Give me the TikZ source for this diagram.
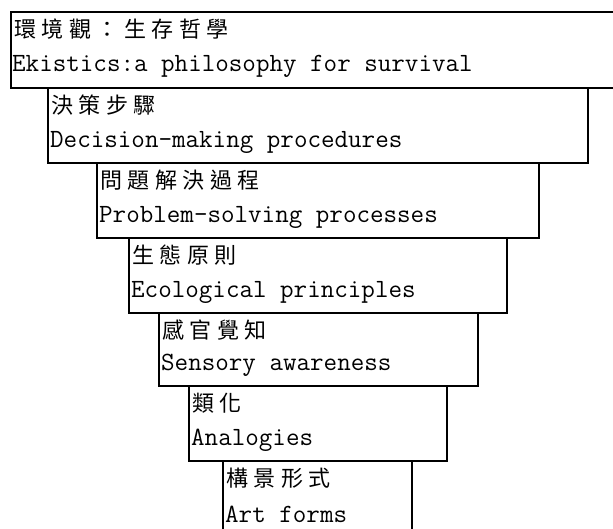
\documentclass[tikz,border=0pt]{standalone}
\usepackage{fontspec}
\newfontfamily\zhfont[LetterSpace=25]{Noto Sans CJK TC}
\usepackage{tikz}
\usetikzlibrary{calc}
\tikzset{lvl/.style={draw,line width=1.5pt,anchor=north west,inner sep=0pt,minimum height=75pt}}
\tikzset{zh/.style={anchor=base west,inner sep=0pt,font=\fontsize{22}{22}\zhfont}}
\tikzset{en/.style={anchor=base west,inner sep=0pt,font=\fontsize{26.3}{26.3}\ttfamily}}

\begin{document}
\begin{tikzpicture}[x=1pt,y=-1pt]
  \useasboundingbox (0,0) rectangle (613,528);
  % levels, widest on top
  \node[lvl,minimum width=620pt,minimum height=76pt] (A) at (10,11) {};
  \node[lvl,minimum width=540pt] (B) at (47,87) {};
  \node[lvl,minimum width=442pt] (C) at (96,162) {};
  \node[lvl,minimum width=378pt] (D) at (128,237) {};
  \node[lvl,minimum width=319pt,minimum height=73pt] (E) at (158,312) {};
  \node[lvl,minimum width=258pt] (F) at (188,385) {};
  \node[lvl,minimum width=189pt,minimum height=90pt] (G) at (222,460) {};
  % labels
  \node[zh] (A1) at ($(A.north west)+(4,26)$) {環境觀：生存哲學};
  \node[en] (A2) at ($(A.north west)+(2,60)$) {Ekistics:a philosophy for survival};
  \node[zh] (B1) at ($(B.north west)+(4,26)$) {決策步驟};
  \node[en] (B2) at ($(B.north west)+(3,60)$) {Decision-making procedures};
  \node[zh] (C1) at ($(C.north west)+(4,26)$) {問題解決過程};
  \node[en] (C2) at ($(C.north west)+(3,60)$) {Problem-solving processes};
  \node[zh] (D1) at ($(D.north west)+(4,26)$) {生態原則};
  \node[en] (D2) at ($(D.north west)+(3,60)$) {Ecological principles};
  \node[zh] (E1) at ($(E.north west)+(4,26)$) {感官覺知};
  \node[en] (E2) at ($(E.north west)+(3,58)$) {Sensory awareness};
  \node[zh] (F1) at ($(F.north west)+(4,26)$) {類化};
  \node[en] (F2) at ($(F.north west)+(3,60)$) {Analogies};
  \node[zh] (G1) at ($(G.north west)+(4,26)$) {構景形式};
  \node[en] (G2) at ($(G.north west)+(3,62)$) {Art forms};
\end{tikzpicture}
\end{document}
